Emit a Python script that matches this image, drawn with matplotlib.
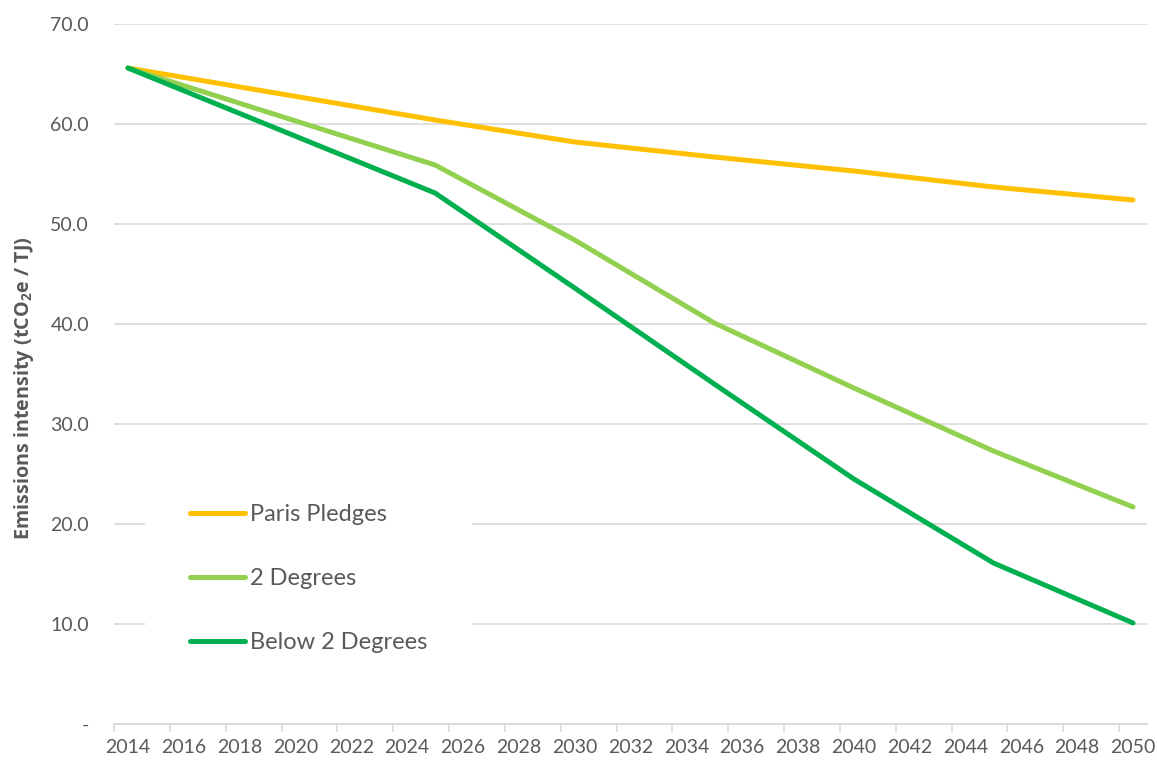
import matplotlib
matplotlib.use("Agg")
import matplotlib.pyplot as plt
from matplotlib.ticker import FixedLocator, FuncFormatter

plt.rcParams['font.family'] = ['Lato', 'DejaVu Sans']

years = [2014, 2025, 2030, 2035, 2040, 2045, 2050]
paris = [65.6, 60.4, 58.2, 56.7, 55.3, 53.7, 52.4]
two_deg = [65.6, 55.9, 48.4, 40.1, 33.6, 27.3, 21.7]
below_two = [65.6, 53.1, 43.6, 34.0, 24.5, 16.1, 10.1]
series_names = ["Paris Pledges", "2 Degrees", "Below 2 Degrees"]
colors = ["#FFC000", "#92D050", "#00B050"]
x_labels = list(range(2014, 2051, 2))
y_ticks = [0, 10, 20, 30, 40, 50, 60, 70]

txt = "#595959"
grid = "#d9d9d9"

fig = plt.figure(figsize=(11.57, 7.6), dpi=100)
ax = fig.add_axes([114/1157, 1-724/760, (1147-114)/1157, 700/760])

for vals, name, c in zip([paris, two_deg, below_two], series_names, colors):
    ax.plot(years, vals, color=c, lw=3.6, label=name, solid_capstyle='round', solid_joinstyle='round', zorder=3)

ax.set_xlim(2013.5, 2050.5)
ax.set_ylim(0, 70)
ax.set_yticks(y_ticks)
ax.yaxis.set_major_formatter(FuncFormatter(lambda v, p: "-" if v == 0 else f"{v:.1f}"))
ax.set_xticks(x_labels)
ax.xaxis.set_minor_locator(FixedLocator([2013.5 + 2*k for k in range(19)]))
ax.tick_params(axis='x', which='major', length=0, pad=11, labelsize=14, labelcolor=txt)
ax.tick_params(axis='x', which='minor', length=6, width=1.2, color=grid)
ax.tick_params(axis='y', length=0, pad=18, labelsize=14, labelcolor=txt)

ax.grid(axis='y', color=grid, lw=1.2, zorder=0)
for s in ['top', 'right', 'left']:
    ax.spines[s].set_visible(False)
ax.spines['bottom'].set_color(grid)
ax.spines['bottom'].set_linewidth(1.3)

ax.set_ylabel(r"Emissions intensity (tCO$_\mathdefault{2}$e / TJ)", fontsize=14.2,
              fontweight='bold', family=['Open Sans', 'DejaVu Sans'], color=txt)
ax.yaxis.set_label_coords(-(114-36)/1033, (724-388)/700)

leg = ax.legend(loc='lower left', bbox_to_anchor=(0.03, 0.037), frameon=True,
                facecolor='white', edgecolor='none', framealpha=1, fontsize=17,
                labelspacing=1.82, handlelength=2.35, handletextpad=0.2,
                borderpad=1.9, borderaxespad=0)
for t in leg.get_texts():
    t.set_color(txt)
leg.set_zorder(5)
fig.savefig("out.png", dpi=100)
